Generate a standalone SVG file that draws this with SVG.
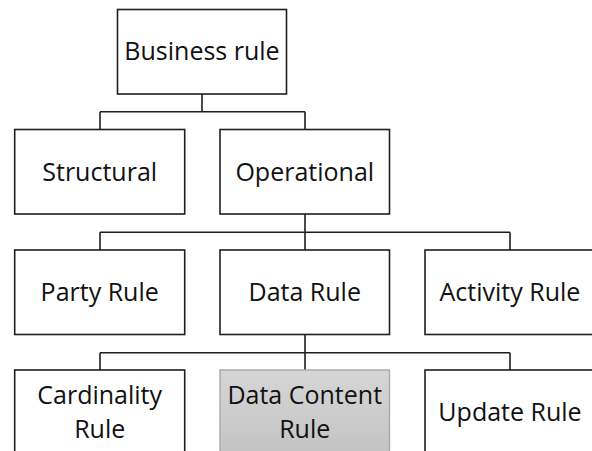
<svg xmlns="http://www.w3.org/2000/svg" width="592" height="451" viewBox="0 0 592 451">
<defs>
<linearGradient id="gray" x1="0" y1="0" x2="0" y2="1">
<stop offset="0" stop-color="#d6d6d6"/>
<stop offset="1" stop-color="#c3c3c3"/>
</linearGradient>
</defs>
<style>
.box{fill:#ffffff;stroke:#1e1e1e;stroke-width:1.6}
.hl{fill:url(#gray);stroke:#a8a8a8;stroke-width:1.4}
.lbl{font-family:"Open Sans","Noto Sans",sans-serif;font-size:25px;fill:#111111;text-anchor:middle}
.conn{fill:none;stroke:#1e1e1e;stroke-width:1.6}
</style>
<rect width="592" height="451" fill="#ffffff"/>
<g id="connectors">
<path class="conn" d="M202,94 V111.7 M100,111.7 H305 M100,111.7 V129.5 M305,111.7 V129.5"/>
<path class="conn" d="M305,214 V232.3 M100,232.3 H510 M100,232.3 V250 M305,232.3 V250 M510,232.3 V250"/>
<path class="conn" d="M305,334.5 V352.7 M100,352.7 H510 M100,352.7 V370 M305,352.7 V370 M510,352.7 V370"/>
</g>
<g id="business-rule">
<rect class="box" x="117.5" y="9.5" width="169" height="84.5"/>
<text class="lbl" x="202" y="60">Business rule</text>
</g>
<g id="structural">
<rect class="box" x="14.7" y="129.5" width="170" height="84.5"/>
<text class="lbl" x="99.7" y="181">Structural</text>
</g>
<g id="operational">
<rect class="box" x="220" y="129.5" width="169.5" height="84.5"/>
<text class="lbl" x="304.75" y="181">Operational</text>
</g>
<g id="party-rule">
<rect class="box" x="14.7" y="250" width="170" height="84.5"/>
<text class="lbl" x="99.7" y="301">Party Rule</text>
</g>
<g id="data-rule">
<rect class="box" x="220" y="250" width="169.5" height="84.5"/>
<text class="lbl" x="304.75" y="301">Data Rule</text>
</g>
<g id="activity-rule">
<rect class="box" x="425" y="250" width="170" height="84.5"/>
<text class="lbl" x="510" y="301">Activity Rule</text>
</g>
<g id="cardinality-rule">
<rect class="box" x="14.7" y="370" width="170" height="84.5"/>
<text class="lbl" x="99.7" y="404">Cardinality</text>
<text class="lbl" x="99.7" y="437.7">Rule</text>
</g>
<g id="data-content-rule">
<rect class="hl" x="220" y="370" width="169.5" height="84.5"/>
<text class="lbl" x="304.75" y="404">Data Content</text>
<text class="lbl" x="304.75" y="437.7">Rule</text>
</g>
<g id="update-rule">
<rect class="box" x="425" y="370" width="170" height="84.5"/>
<text class="lbl" x="510" y="421">Update Rule</text>
</g>
</svg>
